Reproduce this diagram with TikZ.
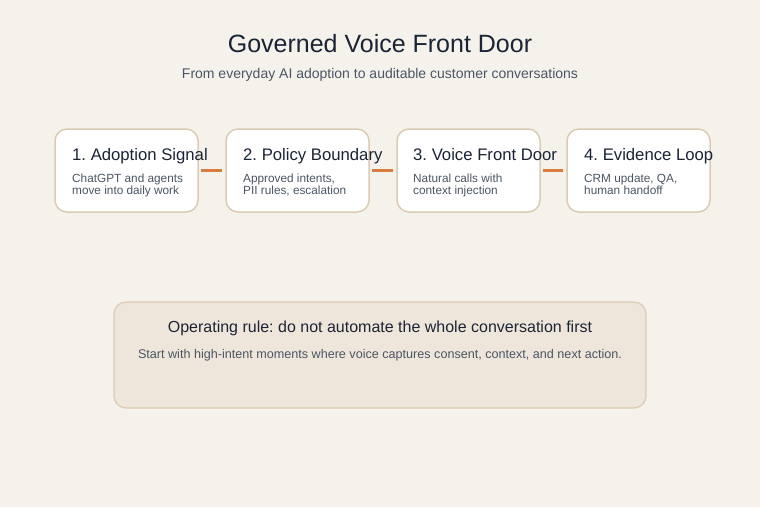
\documentclass[tikz,border=0pt]{standalone}
\usepackage{fontspec}
\setmainfont{Liberation Sans}
\frenchspacing
\definecolor{bg}{HTML}{F5F2EC}
\definecolor{boxline}{HTML}{DACBB4}
\definecolor{rulefill}{HTML}{EFE6DB}
\definecolor{ink}{HTML}{1B2435}
\definecolor{muted}{HTML}{4B5563}
\definecolor{accent}{HTML}{D97B3C}
\begin{document}
\begin{tikzpicture}[x=1pt,y=-1pt,
  stepbox/.style={draw=boxline,line width=1.5pt,fill=white,rounded corners=12pt,minimum width=143pt,minimum height=83pt,inner sep=0pt},
  steptitle/.style={anchor=base west,inner sep=0pt,text=ink,font=\fontsize{16.7}{19}\selectfont},
  stepbody/.style={anchor=base west,inner sep=0pt,text=muted,font=\fontsize{11.8}{12}\selectfont},
  link/.style={draw=accent,line width=3pt}]
\fill[bg] (0,0) rectangle (760,507);
\useasboundingbox (0,0) rectangle (760,507);
\node[anchor=base,inner sep=0pt,text=ink,font=\fontsize{25}{28}\selectfont] (title) at (380,52.7) {Governed Voice Front Door};
\node[anchor=base,inner sep=0pt,text=muted,font=\fontsize{14}{16}\selectfont] (sub) at (380,78) {From everyday AI adoption to auditable customer conversations};
\node[stepbox] (b1) at (126.5,170.5) {};
\node[stepbox] (b2) at (297.5,170.5) {};
\node[stepbox] (b3) at (468.5,170.5) {};
\node[stepbox] (b4) at (638.5,170.5) {};
\draw[link] ([xshift=2pt]b1.east) -- ([xshift=-3pt]b2.west);
\draw[link] ([xshift=2pt]b2.east) -- ([xshift=-3pt]b3.west);
\draw[link] ([xshift=2pt]b3.east) -- ([xshift=-3pt]b4.west);
\node[steptitle] (t1) at (72,160.7) {1. Adoption Signal};
\node[stepbody] (s1a) at (72,182) {ChatGPT and agents};
\node[stepbody] (s1b) at (72,194.5) {move into daily work};
\node[steptitle] (t2) at (243,160.7) {2. Policy Boundary};
\node[stepbody] (s2a) at (243,182) {Approved intents,};
\node[stepbody] (s2b) at (243,194.5) {PII rules, escalation};
\node[steptitle] (t3) at (413,160.7) {3. Voice Front Door};
\node[stepbody] (s3a) at (413,182) {Natural calls with};
\node[stepbody] (s3b) at (413,194.5) {context injection};
\node[steptitle] (t4) at (584,160.7) {4. Evidence Loop};
\node[stepbody] (s4a) at (584,182) {CRM update, QA,};
\node[stepbody] (s4b) at (584,194.5) {human handoff};
\node[draw=boxline,line width=1.2pt,fill=rulefill,rounded corners=12pt,minimum width=532pt,minimum height=106pt,inner sep=0pt] (rule) at (380,355) {};
\node[anchor=base,inner sep=0pt,text=ink,font=\fontsize{16}{18}\selectfont] (rt) at (380,332.7) {Operating rule: do not automate the whole conversation first};
\node[anchor=base,inner sep=0pt,text=muted,font=\fontsize{12.6}{14}\selectfont] (rs) at (380,358) {Start with high-intent moments where voice captures consent, context, and next action.};
\end{tikzpicture}
\end{document}
